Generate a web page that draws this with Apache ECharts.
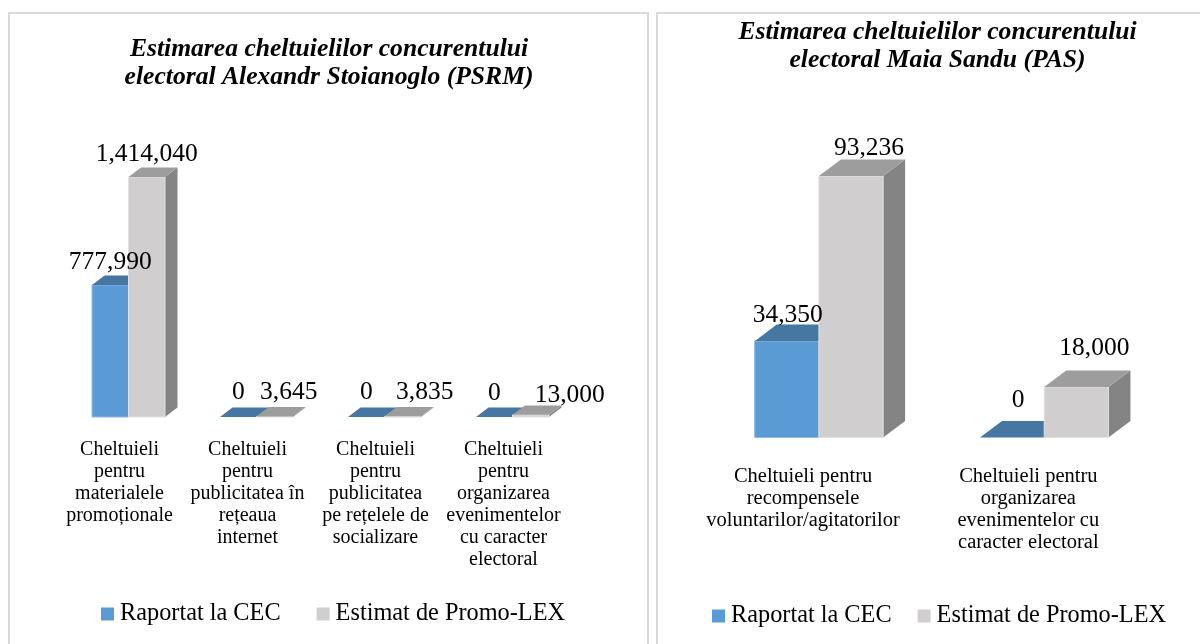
<!DOCTYPE html>
<html>
<head>
<meta charset="utf-8">
<title>Estimarea cheltuielilor</title>
<style>
html,body{margin:0;padding:0;background:#fff;}
#main{width:1200px;height:644px;}
</style>
<script src="https://cdn.jsdelivr.net/npm/echarts@6/dist/echarts.min.js"></script>
</head>
<body>
<div id="main"></div>
<script>
// date
var seriesNames = ["Raportat la CEC", "Estimat de Promo-LEX"];

var leftTitle = "Estimarea cheltuielilor concurentului\nelectoral Alexandr Stoianoglo (PSRM)";
var leftCategories = [
    "Cheltuieli\npentru\nmaterialele\npromoționale",
    "Cheltuieli\npentru\npublicitatea în\nrețeaua\ninternet",
    "Cheltuieli\npentru\npublicitatea\npe rețelele de\nsocializare",
    "Cheltuieli\npentru\norganizarea\nevenimentelor\ncu caracter\nelectoral"
];
var leftReported = [777990, 0, 0, 0];
var leftEstimated = [1414040, 3645, 3835, 13000];

var rightTitle = "Estimarea cheltuielilor concurentului\nelectoral Maia Sandu (PAS)";
var rightCategories = [
    "Cheltuieli pentru\nrecompensele\nvoluntarilor/agitatorilor",
    "Cheltuieli pentru\norganizarea\nevenimentelor cu\ncaracter electoral"
];
var rightReported = [34350, 0];
var rightEstimated = [93236, 18000];

var FONT = '"Liberation Serif"';
var COLORS = [
    {front: "#5b9bd5", top: "#4677a3", side: "#3f6d96", edge: "#8dbbe4"},
    {front: "#d0cece", top: "#9d9d9d", side: "#858484", edge: "#e2e0e0"}
];
// decalajul etichetelor fata de mijlocul muchiei de sus a barei
var leftShift = [
    [[0, -23], [0, -24.5], [0, -24.5], [0, -24]],
    [[0, -23], [14, -24.5], [22, -24.5], [39, -19.5]]
];
var rightShift = [
    [[1, -26], [6, -37]],
    [[18, -28], [18, -38.5]]
];

// bara 3D: fata, capacul si latura, din scara axelor
function bar3d(serieIdx, shifts) {
    return function (params, api) {
        var i = api.value(0);
        var v = api.value(1);
        var band = api.size([1, 0])[0];
        var w = band * 0.285;
        var dx = w * 0.343;
        var dy = w * 0.258;
        var base = api.coord([i, 0]);
        var top = api.coord([i, v]);
        var x0 = base[0] + dx * 0.72 - w + serieIdx * w;
        var x1 = x0 + w;
        var yb = base[1];
        var yt = top[1];
        var c = COLORS[serieIdx];
        var shift = shifts[serieIdx][i];
        var children = [];
        if (yb - yt > 0.1) {
            children.push({
                type: "polygon",
                shape: {points: [[x1, yb], [x1 + dx, yb - dy], [x1 + dx, yt - dy], [x1, yt]]},
                style: {fill: c.side}
            });
            children.push({
                type: "rect",
                shape: {x: x0, y: yt, width: w, height: yb - yt},
                style: {fill: c.front, stroke: c.edge, lineWidth: 1}
            });
        }
        children.push({
            type: "polygon",
            shape: {points: [[x0, yt], [x0 + dx, yt - dy], [x1 + dx, yt - dy], [x1, yt]]},
            style: {fill: c.top}
        });
        children.push({
            type: "text",
            z2: 100,
            style: {
                x: (x0 + x1) / 2 + shift[0],
                y: yt + shift[1],
                text: v.toLocaleString("en-US"),
                font: '25.5px ' + FONT,
                fill: "#000",
                align: "center",
                verticalAlign: "middle"
            }
        });
        return {type: "group", children: children};
    };
}

function makeSeries(axisIdx, values, serieIdx, shifts) {
    return {
        name: seriesNames[serieIdx],
        type: "custom",
        xAxisIndex: axisIdx,
        yAxisIndex: axisIdx,
        coordinateSystem: "cartesian2d",
        itemStyle: {color: COLORS[serieIdx].front},
        renderItem: bar3d(serieIdx, shifts),
        encode: {x: 0, y: 1},
        data: values.map(function (v, i) { return [i, v]; }),
        silent: true
    };
}

function makeXAxis(gridIdx, categories, margin, fontSize) {
    return {
        type: "category",
        gridIndex: gridIdx,
        data: categories,
        axisLine: {show: false},
        axisTick: {show: false},
        axisLabel: {
            interval: 0,
            margin: margin,
            color: "#000",
            fontFamily: FONT,
            fontSize: fontSize,
            lineHeight: 22,
            verticalAlign: "top"
        }
    };
}

function makeYAxis(gridIdx, max) {
    return {type: "value", gridIndex: gridIdx, min: 0, max: max, show: false};
}

function makeLegend(left, top, gap) {
    return {
        left: left,
        top: top,
        padding: 0,
        itemWidth: 13,
        itemHeight: 13,
        itemGap: gap,
        selectedMode: false,
        icon: "rect",
        data: seriesNames,
        textStyle: {fontFamily: FONT, fontSize: 24.3, color: "#000", padding: [0, 0, 0, 1]}
    };
}

function makeTitle(text, center, top) {
    return {
        text: text,
        left: center,
        top: top,
        textAlign: "center",
        textStyle: {
            fontFamily: FONT,
            fontSize: 25.6,
            fontStyle: "italic",
            fontWeight: "bold",
            color: "#000",
            lineHeight: 28
        }
    };
}

var myChart = echarts.init(document.getElementById("main"));
var option = {
    backgroundColor: "#fff",
    animation: false,
    graphic: [
        {type: "rect", shape: {x: 9, y: 13, width: 639, height: 640}, style: {fill: "none", stroke: "#d9d9d9", lineWidth: 2}},
        {type: "rect", shape: {x: 657, y: 13, width: 560, height: 640}, style: {fill: "none", stroke: "#d9d9d9", lineWidth: 2}}
    ],
    title: [
        makeTitle(leftTitle, 324, 30),
        makeTitle(rightTitle, 932.5, 13)
    ],
    legend: [
        makeLegend(101, 602, 36),
        makeLegend(712, 604, 26)
    ],
    grid: [
        {left: 55.5, width: 512, top: 177, height: 240},
        {left: 690.4, width: 450.6, top: 176, height: 261.5}
    ],
    xAxis: [
        makeXAxis(0, leftCategories, 22, 20),
        makeXAxis(1, rightCategories, 28, 20.5)
    ],
    yAxis: [
        makeYAxis(0, 1414040),
        makeYAxis(1, 93236)
    ],
    series: [
        makeSeries(0, leftReported, 0, leftShift),
        makeSeries(0, leftEstimated, 1, leftShift),
        makeSeries(1, rightReported, 0, rightShift),
        makeSeries(1, rightEstimated, 1, rightShift)
    ]
};
myChart.setOption(option);
</script>
</body>
</html>
